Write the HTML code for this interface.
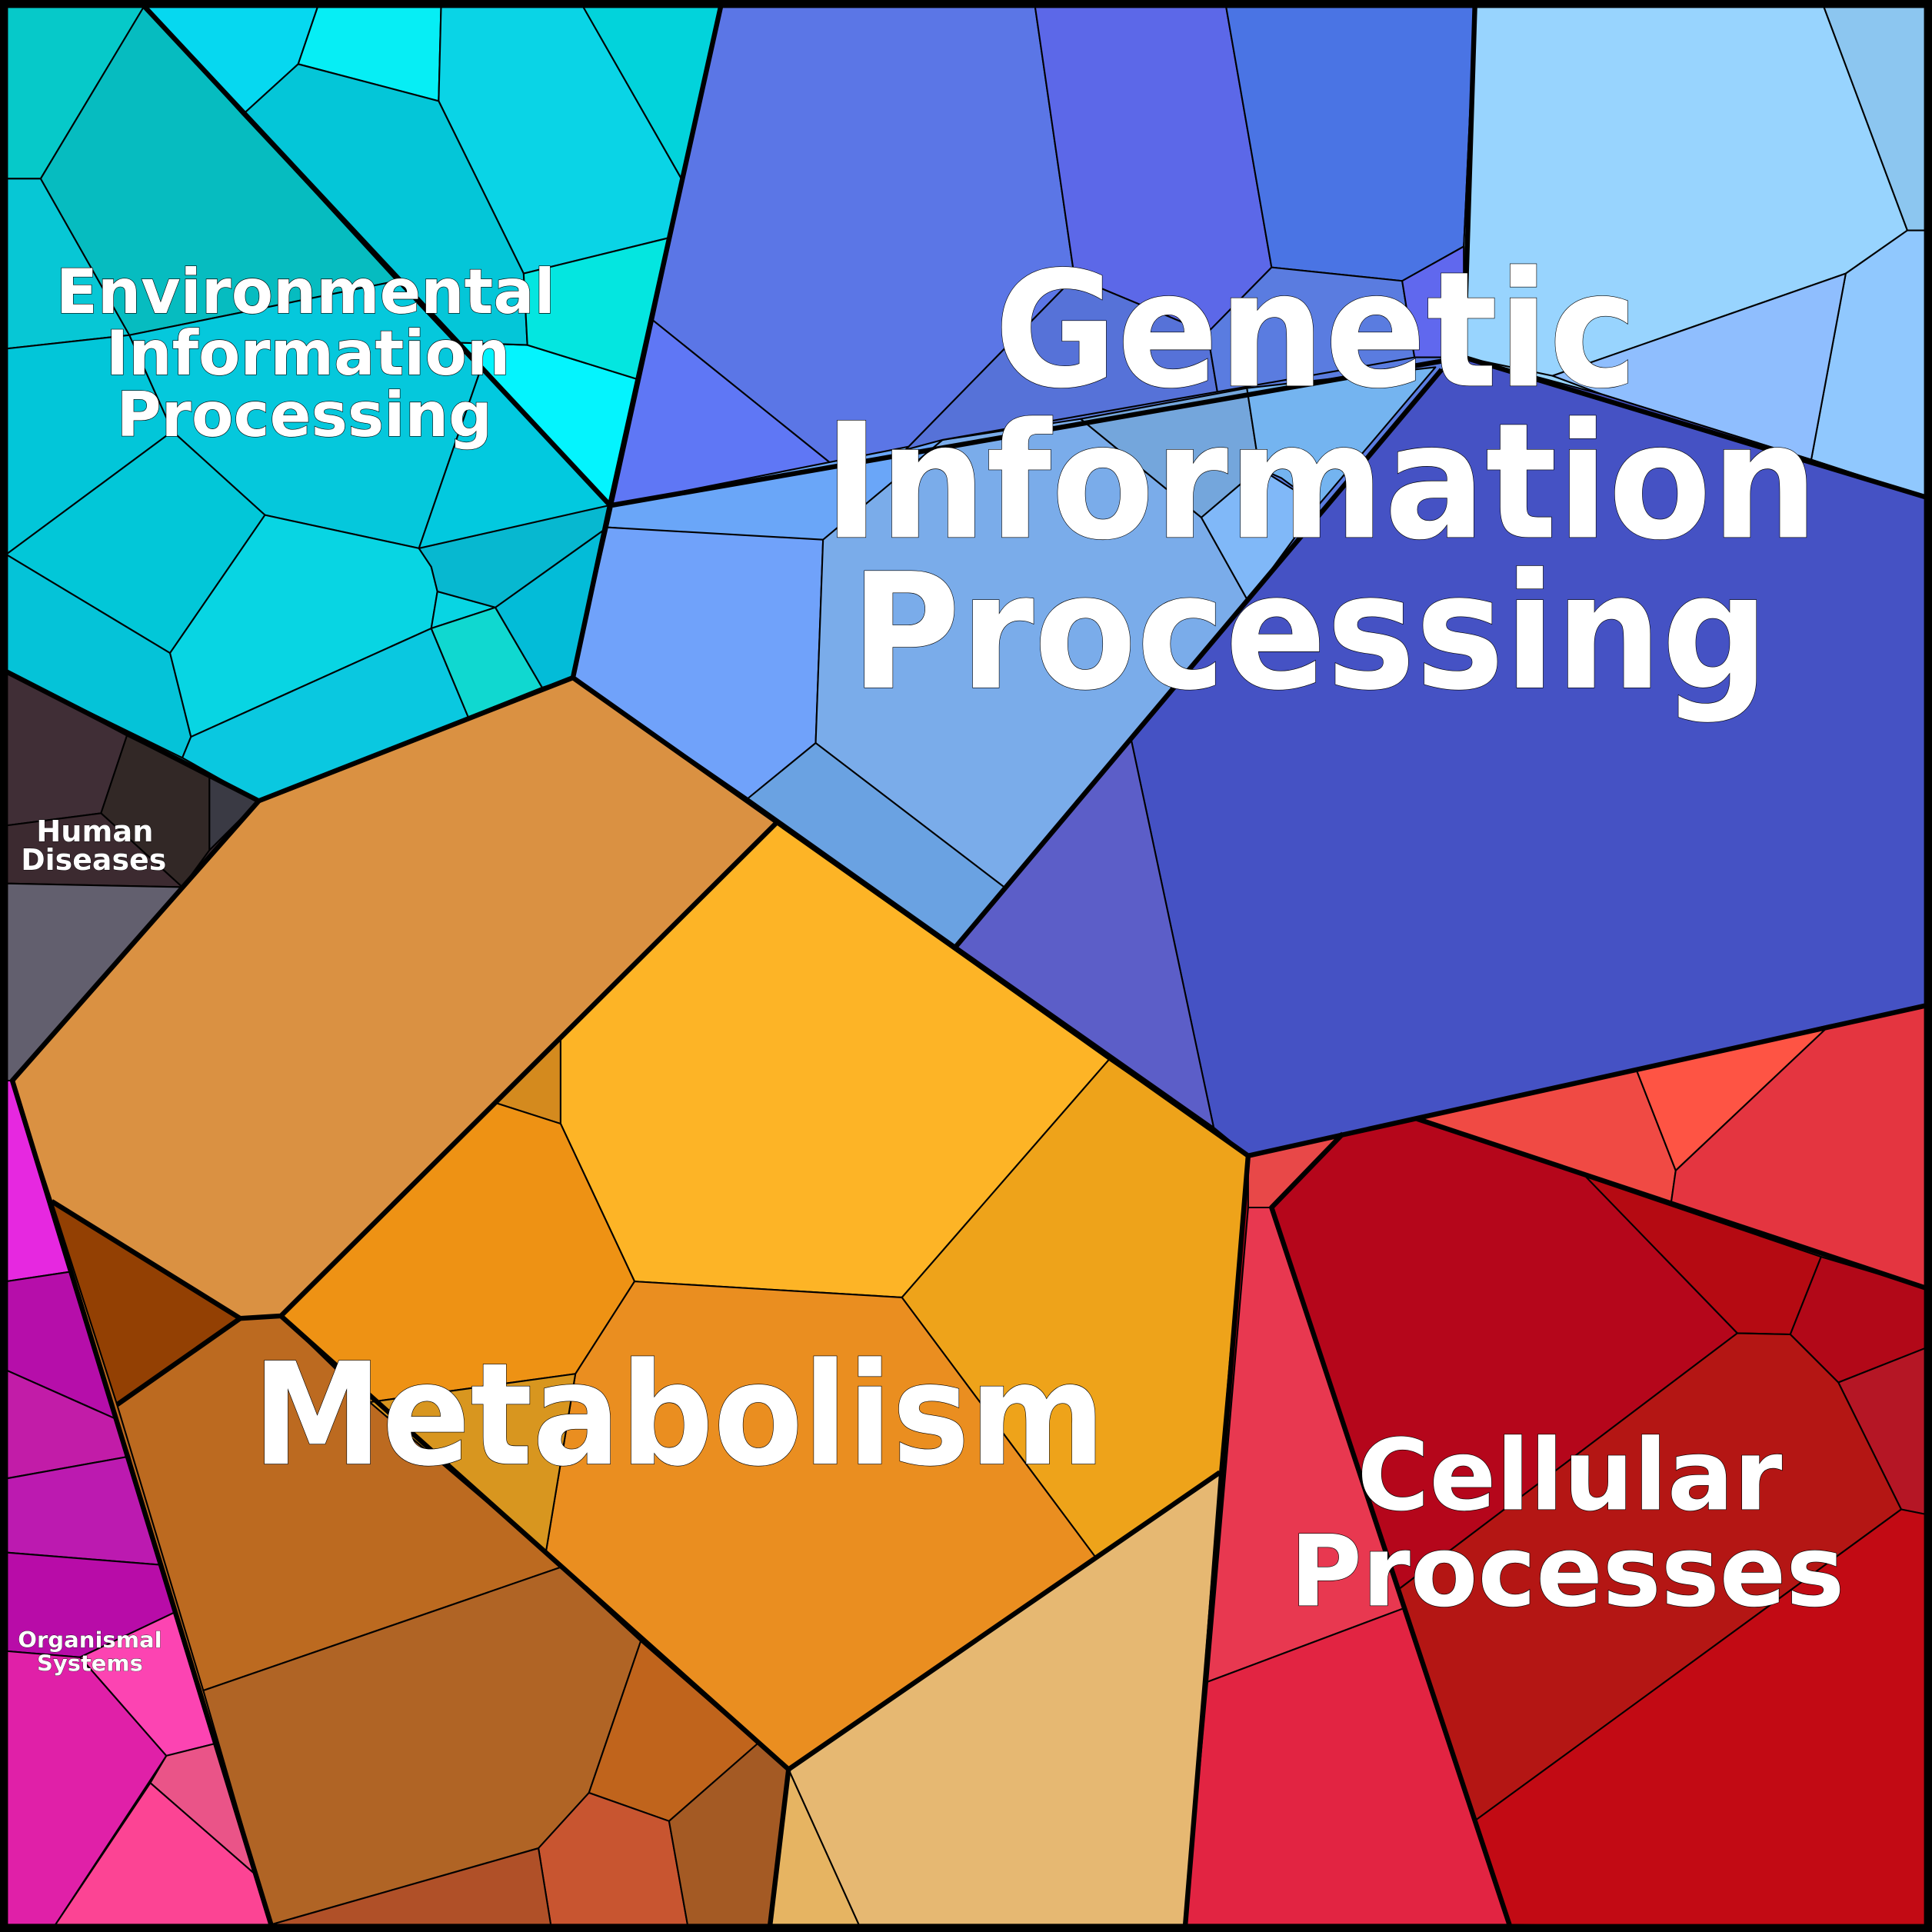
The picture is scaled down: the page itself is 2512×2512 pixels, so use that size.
<!DOCTYPE html>
<html><head><meta charset="utf-8"><style>html,body{margin:0;padding:0;background:#000}svg{display:block}</style></head>
<body>
<svg width="2512" height="2512" viewBox="0 0 1568 1568" xmlns="http://www.w3.org/2000/svg">
<rect x="0" y="0" width="1568" height="1568" fill="#000"/>
<!-- base fills -->
<g stroke="none">
<polygon points="5,5 585,5 495,410 465,550 210,650 5,545" fill="#05c8dc"/>
<polygon points="585,5 1568,5 1568,815 1013,938 776,768 465,550 495,410" fill="#5a7ce0"/>
<polygon points="1188,290 1568,405 1568,815 1013,938 776,768" fill="#4552c4"/>
<polygon points="1188,200 1197,5 1568,5 1568,405 1188,290" fill="#98d4fe"/>
<polygon points="5,545 210,650 10,877 5,877" fill="#3c2a30"/>
<polygon points="5,877 10,877 220,1562 5,1562" fill="#c21ca8"/>
<polygon points="210,650 465,550 1013,938 962,1562 220,1562 10,877" fill="#bc6a20"/>
<polygon points="1013,938 1568,815 1568,1568 962,1562" fill="#b5061b"/>
</g>
<g stroke="#000" stroke-width="1.3" stroke-linejoin="round">
<!-- Environmental -->
<polygon points="5,5 117,5 33,145 5,145" fill="#06c9c9"/>
<polygon points="5,145 33,145 105,272 5,283" fill="#07c7d5"/>
<polygon points="117,5 33,145 105,272 322,228" fill="#06bcc0"/>
<polygon points="5,283 105,272 140,350 5,450" fill="#02c6d9"/>
<polygon points="105,272 322,228 390,300 340,445 215,418 140,350" fill="#05c8dc"/>
<polygon points="5,450 140,350 215,418 138,530" fill="#02c7d8"/>
<polygon points="5,450 138,530 155,598 148,615 5,545" fill="#05c3d8"/>
<polygon points="215,418 340,445 350,460 355,480 350,510 155,598 138,530" fill="#08d5e3"/>
<polygon points="355,480 402,493 350,510" fill="#08d5e3"/>
<polygon points="155,598 350,510 380,582 210,650 148,615" fill="#0ac8e0"/>
<polygon points="350,510 402,493 440,558 380,582" fill="#10d8d0"/>
<polygon points="402,493 493,428 465,550 440,558" fill="#03bcd8"/>
<polygon points="340,445 494,410 493,428 402,493 355,480 350,460" fill="#07b8d0"/>
<polygon points="322,228 370,278 495,410 340,445 390,300" fill="#02c9df"/>
<polygon points="370,278 428,280 518,308 495,410" fill="#04f4fe"/>
<polygon points="117,5 258,5 242,52 197,93" fill="#06d8f0"/>
<polygon points="258,5 358,5 356,82 242,52" fill="#06eef5"/>
<polygon points="358,5 473,5 553,145 543,193 425,222 356,82" fill="#0ad4e6"/>
<polygon points="473,5 585,5 553,145" fill="#02d3db"/>
<polygon points="197,93 242,52 356,82 425,222 428,280 370,278" fill="#04c6d8"/>
<polygon points="425,222 543,193 518,308 428,280" fill="#04e6e0"/>
<!-- Genetic -->
<polygon points="585,5 840,5 872,225 735,365 678,379 530,260" fill="#5b76e6"/>
<polygon points="530,260 678,379 497,410" fill="#5f77f5"/>
<polygon points="840,5 995,5 1032,217 980,270 872,225" fill="#5c68e8"/>
<polygon points="995,5 1197,5 1188,200 1138,228 1032,217" fill="#4a74e4"/>
<polygon points="1197,5 1480,5 1548,187 1498,222 1260,305 1188,290 1188,200" fill="#98d4fe"/>
<polygon points="1480,5 1568,5 1568,187 1548,187" fill="#8cc6f0"/>
<polygon points="1498,222 1548,187 1568,187 1568,405 1470,373" fill="#90c8fe"/>
<polygon points="1260,305 1498,222 1470,373 1300,320" fill="#8fbefe"/>
<polygon points="1188,290 1300,320 1470,373 1568,405 1568,815 1013,938 985,915 918,600 1013,488 1170,300" fill="#4552c4"/>
<polygon points="918,600 985,915 776,768 815,720" fill="#5c5ec8"/>
<polygon points="497,410 765,357 668,440 493,428" fill="#6aa6f8"/>
<polygon points="493,428 668,438 662,603 607,648 465,550" fill="#70a2fa"/>
<polygon points="668,438 765,357 877,340 975,420 1013,488 815,720 662,603" fill="#7aacea"/>
<polygon points="607,648 662,603 815,720 776,768" fill="#6aa2e2"/>
<polygon points="872,225 980,270 988,318 765,357 735,365" fill="#5672d8"/>
<polygon points="877,340 1012,315 1022,380 975,420" fill="#74a6dc"/>
<polygon points="1012,315 1165,298 1070,410 1040,388 1022,380" fill="#74b4f0"/>
<polygon points="975,420 1022,380 1070,410 1013,488" fill="#80b8f8"/>
<polygon points="1032,217 1138,228 1148,290 988,318 980,270" fill="#5a7ce0"/>
<polygon points="1138,228 1188,200 1188,290 1148,290" fill="#6068ee"/>
<!-- Human diseases -->
<polygon points="5,545 103,597 82,660 5,670" fill="#402e36"/>
<polygon points="103,597 170,630 170,690 148,720 82,660" fill="#322826"/>
<polygon points="170,630 210,650 170,690" fill="#3a3a44"/>
<polygon points="5,670 82,660 148,720 5,717" fill="#3c2a30"/>
<polygon points="5,717 148,720 10,877 5,877" fill="#625f6e"/>
<!-- Organismal -->
<polygon points="5,877 10,877 58,1032 5,1040" fill="#e628e0"/>
<polygon points="5,1040 58,1032 95,1152 5,1112" fill="#b60eaa"/>
<polygon points="5,1112 95,1152 105,1182 5,1200" fill="#c21ca8"/>
<polygon points="5,1200 105,1182 130,1270 5,1260" fill="#bc1ab0"/>
<polygon points="5,1260 130,1270 143,1308 65,1345 5,1340" fill="#b80ca8"/>
<polygon points="65,1345 143,1308 175,1415 135,1425" fill="#fc44b2"/>
<polygon points="5,1340 65,1345 135,1425 45,1562 5,1562" fill="#e020a8"/>
<polygon points="135,1425 175,1415 208,1522 122,1447" fill="#ea5488"/>
<polygon points="45,1562 122,1447 208,1522 220,1562" fill="#fc4494"/>
<!-- Metabolism -->
<polygon points="210,650 465,550 630,668 455,842 402,895 228,1068 195,1070 42,975 10,877" fill="#da9142"/>
<polygon points="42,975 195,1070 95,1140" fill="#934003"/>
<polygon points="455,842 455,912 402,895" fill="#d48a1e"/>
<polygon points="630,668 900,860 732,1053 515,1040 455,912 455,842" fill="#fdb426"/>
<polygon points="402,895 455,912 515,1040 467,1115 300,1138 228,1068" fill="#ee9214"/>
<polygon points="900,860 1013,938 990,1195 890,1265 732,1053" fill="#eea31a"/>
<polygon points="515,1040 732,1053 890,1265 640,1436 455,1272 443,1260 467,1115" fill="#ea8e20"/>
<polygon points="300,1138 467,1115 443,1260" fill="#d8961f"/>
<polygon points="195,1070 228,1068 300,1138 443,1260 455,1272 165,1372 95,1140" fill="#bc6a20"/>
<polygon points="165,1372 455,1272 520,1332 478,1455 437,1500 220,1562" fill="#b06425"/>
<polygon points="520,1332 615,1415 543,1478 478,1455" fill="#c0641c"/>
<polygon points="437,1500 478,1455 543,1478 558,1562 447,1562" fill="#c85530"/>
<polygon points="220,1562 437,1500 447,1562" fill="#b05028"/>
<polygon points="543,1478 615,1415 640,1436 625,1562 558,1562" fill="#a45a24"/>
<polygon points="640,1436 990,1195 962,1562 697,1562" fill="#e6b872"/>
<polygon points="640,1436 697,1562 625,1562" fill="#e6b462"/>
<!-- Cellular -->
<polygon points="1013,938 1090,920 1032,980 1013,980" fill="#e84848"/>
<polygon points="1032,980 1090,920 1150,908 1287,955 1410,1082 1135,1290" fill="#b5061b"/>
<polygon points="1013,980 1032,980 1135,1290 1140,1305 980,1365" fill="#e83850"/>
<polygon points="980,1365 1140,1305 1225,1562 962,1562" fill="#e22442"/>
<polygon points="1150,908 1328,868 1360,950 1356,978 1287,955" fill="#f04a44"/>
<polygon points="1328,868 1485,832 1360,950" fill="#fe5444"/>
<polygon points="1485,832 1568,815 1568,1047 1478,1020 1356,978 1360,950" fill="#e43540"/>
<polygon points="1287,955 1478,1020 1453,1083 1410,1082" fill="#b50a12"/>
<polygon points="1478,1020 1568,1047 1568,1092 1492,1122 1453,1083" fill="#b20818"/>
<polygon points="1492,1122 1568,1092 1568,1230 1543,1225" fill="#b51625"/>
<polygon points="1410,1082 1453,1083 1492,1122 1543,1225 1198,1477 1140,1305 1135,1290" fill="#b41614"/>
<polygon points="1198,1477 1543,1225 1568,1230 1568,1568 1225,1562" fill="#c20a14"/>
</g>
<!-- Thick boundaries -->
<g fill="none" stroke="#000" stroke-width="4" stroke-linejoin="round">
<polyline points="585,5 495,410 465,550 210,650 5,545"/>
<polyline points="117,5 495,410"/>
<polyline points="465,550 1013,938 1568,815"/>
<polyline points="497,410 1188,290 1568,405"/>
<polyline points="1188,290 1197,5"/>
<polyline points="1170,300 776,768"/>
<polyline points="210,650 10,877 220,1562"/>
<polyline points="1013,938 962,1562"/>
<polyline points="1150,908 1568,1047"/>
<polyline points="1090,920 1032,980 1225,1562"/>
<polyline points="630,668 228,1068 195,1070 42,975"/>
<polyline points="195,1070 95,1140"/>
<polyline points="228,1068 640,1436 990,1195"/>
<polyline points="640,1436 625,1562"/>
<rect x="3" y="3" width="1562" height="1562" stroke-width="7"/>
</g>
<!-- Labels -->
<g font-family="'DejaVu Sans','Liberation Sans',sans-serif" font-weight="bold" fill="#fff" stroke="#000" stroke-width="0.8" text-anchor="middle" paint-order="stroke">
<text x="248" y="254" font-size="50" textLength="405" lengthAdjust="spacingAndGlyphs">Environmental</text>
<text x="250" y="304" font-size="50" textLength="328" lengthAdjust="spacingAndGlyphs">Information</text>
<text x="247" y="354" font-size="50" textLength="305" lengthAdjust="spacingAndGlyphs">Processing</text>
<text x="1068" y="313" font-size="130" textLength="522" lengthAdjust="spacingAndGlyphs">Genetic</text>
<text x="1072" y="436" font-size="130" textLength="807" lengthAdjust="spacingAndGlyphs">Information</text>
<text x="1063" y="558" font-size="130" textLength="745" lengthAdjust="spacingAndGlyphs">Processing</text>
<text x="551" y="1188" font-size="115" textLength="692" lengthAdjust="spacingAndGlyphs">Metabolism</text>
<text x="1274" y="1225" font-size="80" textLength="345" lengthAdjust="spacingAndGlyphs">Cellular</text>
<text x="1272" y="1303" font-size="80" textLength="450" lengthAdjust="spacingAndGlyphs">Processes</text>
<text x="77" y="683" font-size="24" stroke-width="0.5" textLength="95" lengthAdjust="spacingAndGlyphs">Human</text>
<text x="76" y="706" font-size="24" stroke-width="0.5" textLength="118" lengthAdjust="spacingAndGlyphs">Diseases</text>
<text x="73" y="1337" font-size="18" stroke-width="0.4" textLength="117" lengthAdjust="spacingAndGlyphs">Organismal</text>
<text x="73" y="1356" font-size="18" stroke-width="0.4" textLength="86" lengthAdjust="spacingAndGlyphs">Systems</text>
</g>
</svg>
</body></html>
